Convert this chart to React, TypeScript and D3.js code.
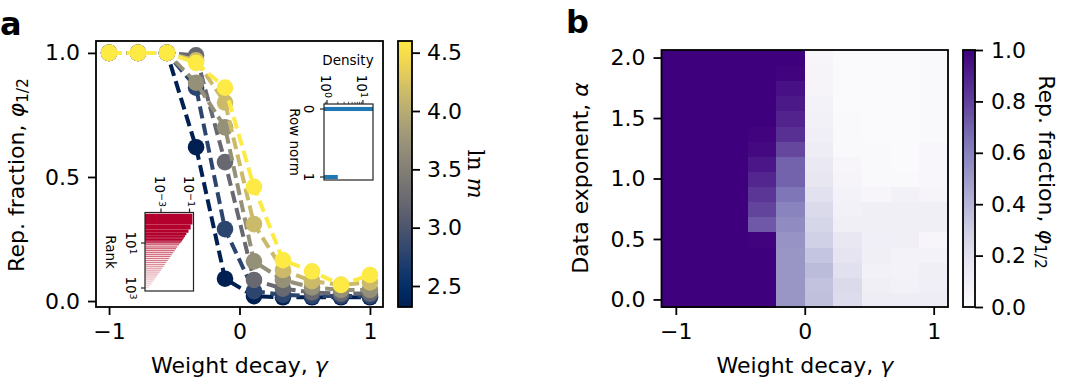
import React, { useEffect, useRef } from 'react';
import * as d3 from 'd3';

const FONT = "'DejaVu Sans', 'Liberation Sans', sans-serif";

// panel a: representation fraction vs weight decay, one curve per width m
const gammas = [-1, -0.778, -0.556, -0.333, -0.111, 0.111, 0.333, 0.556, 0.778, 1];
const mValues = [10, 16, 25, 40, 63, 100];
const phiM10 = [1, 1, 1, 0.62, 0.09, 0.02, 0.015, 0.015, 0.015, 0.015];
const phiM16 = [1, 1, 1, 0.86, 0.29, 0.04, 0.025, 0.02, 0.02, 0.02];
const phiM25 = [1, 1, 1, 0.99, 0.56, 0.085, 0.05, 0.035, 0.03, 0.03];
const phiM40 = [1, 1, 1, 0.88, 0.7, 0.16, 0.085, 0.055, 0.045, 0.045];
const phiM63 = [1, 1, 1, 0.97, 0.8, 0.31, 0.125, 0.08, 0.065, 0.075];
const phiM100 = [1, 1, 1, 0.96, 0.86, 0.46, 0.165, 0.12, 0.065, 0.105];
const phiCurves = [phiM10, phiM16, phiM25, phiM40, phiM63, phiM100];
const lnTicks = [2.5, 3.0, 3.5, 4.0, 4.5];

// inset: row norm histogram
const rowNorms = [0, 1];
const rowDensity = [40, 2];

// inset: rank plot
const topRanks = [1, 2, 3, 4, 5, 6, 7, 8, 9, 10];
const topRankVals = [0.16, 0.12, 0.085, 0.06, 0.048, 0.04, 0.034, 0.03, 0.026, 0.022];
const tailRanks = [12, 15, 18, 22, 27, 33, 40, 49, 60, 73, 89, 108, 132, 161, 196, 239, 292, 356, 434, 529, 645, 786, 958];
const tailRankVals = [0.018, 0.014, 0.0115, 0.0092, 0.0073, 0.0058, 0.0047, 0.0038, 0.003, 0.0024, 0.0019,
  0.00157, 0.00125, 0.001, 0.00081, 0.00065, 0.00052, 0.00042, 0.00034, 0.00027, 0.00022, 0.00017, 0.00014];

// panel b: heatmap, rows alpha = 0 .. 2, columns = gammas
const alphas = [0, 0.125, 0.25, 0.375, 0.5, 0.625, 0.75, 0.875, 1, 1.125, 1.25, 1.375, 1.5, 1.625, 1.75, 1.875, 2];
const phiGrid = [
  [1, 1, 1, 1.0, 0.52, 0.36, 0.23, 0.12, 0.12, 0.12],
  [1, 1, 1, 1.0, 0.52, 0.35, 0.24, 0.1, 0.09, 0.11],
  [1, 1, 1, 1.0, 0.52, 0.38, 0.21, 0.09, 0.08, 0.1],
  [1, 1, 1, 1.0, 0.52, 0.34, 0.18, 0.1, 0.08, 0.08],
  [1, 1, 1, 0.99, 0.53, 0.29, 0.16, 0.11, 0.1, 0.05],
  [1, 1, 1, 0.73, 0.56, 0.26, 0.1, 0.1, 0.1, 0.1],
  [1, 1, 1, 0.79, 0.59, 0.24, 0.09, 0.1, 0.1, 0.1],
  [1, 1, 1, 0.83, 0.64, 0.2, 0.08, 0.05, 0.09, 0.06],
  [1, 1, 1, 0.88, 0.7, 0.17, 0.06, 0.03, 0.03, 0.04],
  [1, 1, 1, 0.93, 0.7, 0.15, 0.05, 0.03, 0.02, 0.04],
  [1, 1, 1, 0.97, 0.78, 0.125, 0.03, 0.03, 0.02, 0.04],
  [1, 1, 1, 0.99, 0.85, 0.11, 0.03, 0.02, 0.02, 0.03],
  [1, 1, 1, 1.0, 0.89, 0.09, 0.03, 0.02, 0.02, 0.03],
  [1, 1, 1, 1.0, 0.92, 0.08, 0.02, 0.02, 0.02, 0.03],
  [1, 1, 1, 1.0, 0.95, 0.06, 0.02, 0.02, 0.02, 0.03],
  [1, 1, 1, 1.0, 0.99, 0.06, 0.02, 0.02, 0.02, 0.03],
  [1, 1, 1, 1.0, 1.0, 0.05, 0.02, 0.02, 0.02, 0.03],
];
const phiTicks = [0, 0.2, 0.4, 0.6, 0.8, 1.0];

const styleAxis = (g: any, size = 22) => {
  g.select('.domain').remove();
  g.attr('font-family', FONT).attr('font-size', size);
  g.selectAll('.tick line').attr('stroke', '#000').attr('stroke-width', 1.8);
  g.selectAll('.tick text').attr('fill', '#000');
};

const App = () => {
  const ref = useRef<SVGSVGElement>(null);

  useEffect(() => {
    const svg = d3.select(ref.current);
    svg.selectAll('*').remove();
    svg.attr('font-family', FONT);
    const defs = svg.append('defs');

    // ---------- panel a ----------
    const xA = d3.scaleLinear().domain([-1.1, 1.1]).range([96, 383]);
    const yA = d3.scaleLinear().domain([-0.024, 1.048]).range([307, 41]);
    const lnY = d3.scaleLinear().domain([2.32, 4.6]).range([307, 41]);
    const cividis = d3.scaleSequential(d3.interpolateCividis).domain([Math.log(10), Math.log(100)]);

    const line = d3.line<number>().x((d, i) => xA(gammas[i])).y(d => yA(d));
    phiCurves.forEach((vals, k) => {
      const c = cividis(Math.log(mValues[k]));
      const g = svg.append('g');
      g.append('path')
        .attr('d', line(vals))
        .attr('fill', 'none')
        .attr('stroke', c)
        .attr('stroke-width', 4)
        .attr('stroke-dasharray', '12,5.5');
      g.selectAll('circle').data(vals).enter().append('circle')
        .attr('cx', (d, i) => xA(gammas[i]))
        .attr('cy', d => yA(d))
        .attr('r', 8.3)
        .attr('fill', c);
    });

    svg.append('g').attr('transform', 'translate(96,0)')
      .call(d3.axisLeft(yA).tickValues([0, 0.5, 1]).tickFormat(d3.format('.1f')).tickSize(8).tickPadding(8))
      .call(styleAxis);
    svg.append('g').attr('transform', 'translate(0,307)')
      .call(d3.axisBottom(xA).tickValues([-1, 0, 1]).tickFormat(d3.format('d')).tickSize(8).tickPadding(8))
      .call(styleAxis);
    svg.append('rect').attr('x', 96).attr('y', 41).attr('width', 287).attr('height', 266)
      .attr('fill', 'none').attr('stroke', '#000').attr('stroke-width', 1.8);

    // inset: row norm density
    const xIn = d3.scaleLog().domain([Math.pow(10, -0.083), Math.pow(10, 1.28)]).range([324, 373]);
    const yIn = d3.scaleLinear().domain([-0.0735, 1.044]).range([104, 180]);
    defs.append('clipPath').attr('id', 'clipIn1').append('rect')
      .attr('x', 324).attr('y', 104).attr('width', 49).attr('height', 76);
    svg.append('rect').attr('x', 324).attr('y', 104).attr('width', 49).attr('height', 76).attr('fill', '#fff');
    svg.append('g').attr('clip-path', 'url(#clipIn1)')
      .selectAll('rect').data(rowNorms).enter().append('rect')
      .attr('x', 324)
      .attr('y', d => yIn(d - 0.03))
      .attr('width', (d, i) => xIn(rowDensity[i]) - 324)
      .attr('height', d => yIn(d + 0.03) - yIn(d - 0.03))
      .attr('fill', '#1f77b4');
    svg.append('rect').attr('x', 324).attr('y', 104).attr('width', 49).attr('height', 76)
      .attr('fill', 'none').attr('stroke', '#222').attr('stroke-width', 1.2);
    [0.9, 2, 3, 4, 5, 6, 7, 8, 9].forEach(v => {
      svg.append('line').attr('x1', xIn(v)).attr('x2', xIn(v)).attr('y1', 104).attr('y2', 101.8)
        .attr('stroke', '#222').attr('stroke-width', 0.8);
    });
    [[1, '0'], [10, '1']].forEach(([v, e]) => {
      const x = xIn(v as number);
      svg.append('line').attr('x1', x).attr('x2', x).attr('y1', 104).attr('y2', 100)
        .attr('stroke', '#222').attr('stroke-width', 1.2);
      const t = svg.append('text').attr('transform', `translate(${x - 6},98) rotate(90)`)
        .attr('text-anchor', 'end').attr('font-size', 13.5).attr('fill', '#000');
      t.append('tspan').text('10');
      t.append('tspan').attr('dy', '-0.45em').attr('font-size', 9.5).text(e as string);
    });
    rowNorms.forEach(n => {
      const y = yIn(n);
      svg.append('line').attr('x1', 324).attr('x2', 320).attr('y1', y).attr('y2', y)
        .attr('stroke', '#222').attr('stroke-width', 1.2);
      svg.append('text').attr('transform', `translate(304,${y}) rotate(90)`)
        .attr('text-anchor', 'middle').attr('font-size', 13.5).attr('fill', '#000').text(String(n));
    });
    svg.append('text').attr('x', 348).attr('y', 65).attr('text-anchor', 'middle')
      .attr('font-size', 13.5).attr('fill', '#000').text('Density');
    svg.append('text').attr('transform', 'translate(290,142) rotate(90)')
      .attr('text-anchor', 'middle').attr('font-size', 13.5).attr('fill', '#000').text('Row norm');

    // inset: rank
    const xR = d3.scaleLog().domain([Math.pow(10, -4.12), Math.pow(10, -0.72)]).range([145, 193.5]);
    const yR = d3.scaleLog().domain([Math.pow(10, -0.356), Math.pow(10, 3.133)]).range([212.5, 291]);
    defs.append('clipPath').attr('id', 'clipIn2').append('rect')
      .attr('x', 145).attr('y', 212.5).attr('width', 48.5).attr('height', 78.5);
    svg.append('rect').attr('x', 145).attr('y', 212.5).attr('width', 48.5).attr('height', 78.5).attr('fill', '#fff');
    const gR = svg.append('g').attr('clip-path', 'url(#clipIn2)');
    gR.selectAll('rect.top').data(topRanks).enter().append('rect')
      .attr('x', 145)
      .attr('y', d => yR(d - 0.5))
      .attr('width', (d, i) => xR(topRankVals[i]) - 145)
      .attr('height', d => yR(d + 0.5) - yR(d - 0.5))
      .attr('fill', '#b3002c');
    const tailColor = d3.interpolateRgb('#c8455c', '#f4dade');
    gR.selectAll('rect.tail').data(tailRanks).enter().append('rect')
      .attr('x', 145)
      .attr('y', d => yR(d) - 0.6)
      .attr('width', (d, i) => xR(tailRankVals[i]) - 145)
      .attr('height', 1.2)
      .attr('fill', (d, i) => tailColor(i / (tailRanks.length - 1)));
    svg.append('rect').attr('x', 145).attr('y', 212.5).attr('width', 48.5).attr('height', 78.5)
      .attr('fill', 'none').attr('stroke', '#222').attr('stroke-width', 1.2);
    [[0.001, '−3'], [0.1, '−1']].forEach(([v, e]) => {
      const x = xR(v as number);
      svg.append('line').attr('x1', x).attr('x2', x).attr('y1', 212.5).attr('y2', 208.5)
        .attr('stroke', '#222').attr('stroke-width', 1.2);
      const t = svg.append('text').attr('transform', `translate(${x - 6},207) rotate(90)`)
        .attr('text-anchor', 'end').attr('font-size', 13.5).attr('fill', '#000');
      t.append('tspan').text('10');
      t.append('tspan').attr('dy', '-0.45em').attr('font-size', 9.5).text(e as string);
    });
    [[10, '1'], [1000, '3']].forEach(([v, e]) => {
      const y = yR(v as number);
      svg.append('line').attr('x1', 145).attr('x2', 141).attr('y1', y).attr('y2', y)
        .attr('stroke', '#222').attr('stroke-width', 1.2);
      const t = svg.append('text').attr('transform', `translate(126,${y}) rotate(90)`)
        .attr('text-anchor', 'middle').attr('font-size', 13.5).attr('fill', '#000');
      t.append('tspan').text('10');
      t.append('tspan').attr('dy', '-0.45em').attr('font-size', 9.5).text(e as string);
    });
    svg.append('text').attr('transform', 'translate(106,252) rotate(90)')
      .attr('text-anchor', 'middle').attr('font-size', 13.5).attr('fill', '#000').text('Rank');

    // colorbar a
    const gradA = defs.append('linearGradient').attr('id', 'gradA')
      .attr('x1', '0%').attr('x2', '0%').attr('y1', '100%').attr('y2', '0%');
    d3.range(21).forEach(i => {
      gradA.append('stop').attr('offset', `${i * 5}%`).attr('stop-color', d3.interpolateCividis(i / 20));
    });
    svg.append('rect').attr('x', 398).attr('y', 41).attr('width', 14).attr('height', 266)
      .attr('fill', 'url(#gradA)').attr('stroke', '#000').attr('stroke-width', 1.8);
    svg.append('g').attr('transform', 'translate(412,0)')
      .call(d3.axisRight(lnY).tickValues(lnTicks).tickFormat(d3.format('.1f')).tickSize(8).tickPadding(7))
      .call(styleAxis);
    const lnLabel = svg.append('text').attr('transform', 'translate(468,174) rotate(90)')
      .attr('text-anchor', 'middle').attr('font-size', 22).attr('fill', '#000')
      .attr('font-family', "'DejaVu Serif', serif");
    lnLabel.append('tspan').text('ln ');
    lnLabel.append('tspan').attr('font-style', 'italic').text('m');

    // labels a
    const yLabA = svg.append('text').attr('transform', 'translate(24,175) rotate(-90)')
      .attr('text-anchor', 'middle').attr('font-size', 22).attr('fill', '#000');
    yLabA.append('tspan').text('Rep. fraction, ');
    yLabA.append('tspan').attr('font-style', 'italic').text('φ');
    yLabA.append('tspan').attr('dy', '0.25em').attr('font-size', 15.5).text('1/2');
    const xLabA = svg.append('text').attr('x', 239.5).attr('y', 373).attr('text-anchor', 'middle')
      .attr('font-size', 22).attr('fill', '#000');
    xLabA.append('tspan').text('Weight decay, ');
    xLabA.append('tspan').attr('font-style', 'italic').text('γ');
    svg.append('text').attr('x', 0).attr('y', 35).attr('font-size', 32).attr('font-weight', 'bold')
      .attr('fill', '#000').text('a');

    // ---------- panel b ----------
    const xB = d3.scaleLinear().domain([-1.111, 1.111]).range([661.5, 948]);
    const yB = d3.scaleLinear().domain([-0.0625, 2.0625]).range([307, 50]);
    const purples = d3.scaleSequential(d3.interpolatePurples).domain([0, 1]);
    const dg = (gammas[1] - gammas[0]) / 2;
    const da = (alphas[1] - alphas[0]) / 2;
    const cells = phiGrid.flatMap((row, r) => row.map((v, c) => ({ a: alphas[r], g: gammas[c], v })));
    svg.append('g').attr('shape-rendering', 'crispEdges')
      .selectAll('rect').data(cells).enter().append('rect')
      .attr('x', d => xB(d.g - dg))
      .attr('y', d => yB(d.a + da))
      .attr('width', d => xB(d.g + dg) - xB(d.g - dg) + 1)
      .attr('height', d => yB(d.a - da) - yB(d.a + da) + 1)
      .attr('fill', d => purples(d.v));
    svg.append('g').attr('transform', 'translate(661.5,0)')
      .call(d3.axisLeft(yB).tickValues([0, 0.5, 1, 1.5, 2]).tickFormat(d3.format('.1f')).tickSize(8).tickPadding(8))
      .call(styleAxis);
    svg.append('g').attr('transform', 'translate(0,307)')
      .call(d3.axisBottom(xB).tickValues([-1, 0, 1]).tickFormat(d3.format('d')).tickSize(8).tickPadding(8))
      .call(styleAxis);
    svg.append('rect').attr('x', 661.5).attr('y', 50).attr('width', 286.5).attr('height', 257)
      .attr('fill', 'none').attr('stroke', '#000').attr('stroke-width', 1.8);

    // colorbar b
    const cbY = d3.scaleLinear().domain([0, 1]).range([307, 50]);
    const gradB = defs.append('linearGradient').attr('id', 'gradB')
      .attr('x1', '0%').attr('x2', '0%').attr('y1', '100%').attr('y2', '0%');
    d3.range(21).forEach(i => {
      gradB.append('stop').attr('offset', `${i * 5}%`).attr('stop-color', d3.interpolatePurples(i / 20));
    });
    svg.append('rect').attr('x', 963).attr('y', 50).attr('width', 12).attr('height', 257)
      .attr('fill', 'url(#gradB)').attr('stroke', '#000').attr('stroke-width', 1.8);
    svg.append('g').attr('transform', 'translate(975,0)')
      .call(d3.axisRight(cbY).tickValues(phiTicks).tickFormat(d3.format('.1f')).tickSize(8).tickPadding(8))
      .call(styleAxis);
    const cbLab = svg.append('text').attr('transform', 'translate(1039,172) rotate(90)')
      .attr('text-anchor', 'middle').attr('font-size', 22).attr('fill', '#000');
    cbLab.append('tspan').text('Rep. fraction, ');
    cbLab.append('tspan').attr('font-style', 'italic').text('φ');
    cbLab.append('tspan').attr('dy', '0.25em').attr('font-size', 15.5).text('1/2');

    const yLabB = svg.append('text').attr('transform', 'translate(588,178) rotate(-90)')
      .attr('text-anchor', 'middle').attr('font-size', 22).attr('fill', '#000');
    yLabB.append('tspan').text('Data exponent, ');
    yLabB.append('tspan').attr('font-style', 'italic').text('α');
    const xLabB = svg.append('text').attr('x', 805).attr('y', 373).attr('text-anchor', 'middle')
      .attr('font-size', 22).attr('fill', '#000');
    xLabB.append('tspan').text('Weight decay, ');
    xLabB.append('tspan').attr('font-style', 'italic').text('γ');
    svg.append('text').attr('x', 566).attr('y', 33).attr('font-size', 32).attr('font-weight', 'bold')
      .attr('fill', '#000').text('b');
  }, []);

  return (
    <svg ref={ref} width={1072} height={389}
      style={{ position: 'absolute', left: 0, top: 0, background: '#fff' }} />
  );
};

export default App;
